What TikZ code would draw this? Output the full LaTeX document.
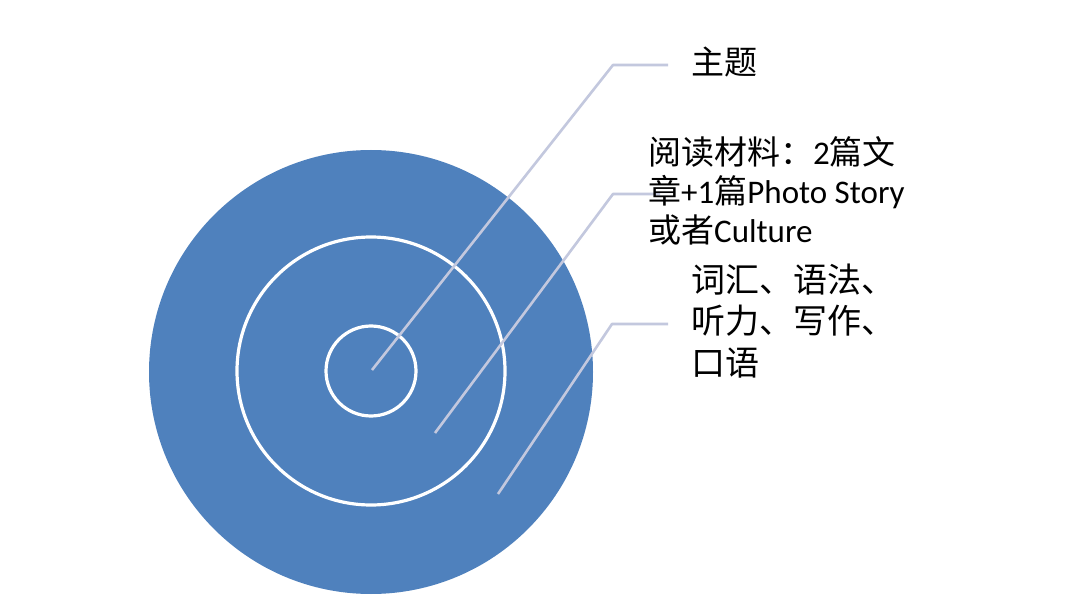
\documentclass[tikz,border=0pt]{standalone}
\usepackage{fontspec}
\setmainfont{Carlito}
\newfontfamily\cjk{Noto Sans CJK SC}
\definecolor{discblue}{HTML}{4F81BD}
\definecolor{leadercol}{HTML}{C3C8DE}
\tikzset{
  disc/.style={fill=discblue, draw=none},
  ring/.style={draw=white, line width=3.2pt},
  leader/.style={draw=leadercol, line width=2.6pt, line join=round},
  lbl/.style={anchor=base west, inner sep=0pt, text=black, font=\fontsize{33}{33}\selectfont},
  lblbig/.style={lbl, font=\fontsize{34}{34}\selectfont},
}
\newcommand{\zh}[1]{{\cjk #1}}
\begin{document}
\begin{tikzpicture}[x=1pt,y=-1pt]
\useasboundingbox (0,0) rectangle (1080,596);
\fill[white] (0,0) rectangle (1080,596);
% target
\node[disc, circle, minimum size=444pt, inner sep=0pt] (outer) at (371,372) {};
\node[ring, circle, minimum size=268pt, inner sep=0pt] (middle) at (371,371) {};
\node[ring, circle, minimum size=90pt, inner sep=0pt] (inner) at (371,371) {};
% leader coordinates
\coordinate (p1) at (372,370);
\coordinate (e1) at (613,65);
\coordinate (h1) at (668,65);
\coordinate (p2) at (435,433);
\coordinate (e2) at (613,194);
\coordinate (h2) at (660,194);
\coordinate (p3) at (498,494);
\coordinate (e3) at (612,324);
\coordinate (h3) at (668,324);
\draw[leader] (p1) -- (e1) -- (h1);
\draw[leader] (p2) -- (e2) -- (h2);
\draw[leader] (p3) -- (e3) -- (h3);
% labels
\node[lbl] (t1) at (691,75) {\zh{主题}};
\node[lbl] (t2a) at (648,165) {\zh{阅读材料：}2\zh{篇文}};
\node[lbl] (t2b) at (648,204) {\zh{章}+1\zh{篇}Photo Story};
\node[lbl] (t2c) at (648,243) {\zh{或者}Culture};
\node[lblbig] (t3a) at (691,293) {\zh{词汇、语法、}};
\node[lblbig] (t3b) at (691,334) {\zh{听力、写作、}};
\node[lblbig] (t3c) at (691,375) {\zh{口语}};
\end{tikzpicture}
\end{document}
